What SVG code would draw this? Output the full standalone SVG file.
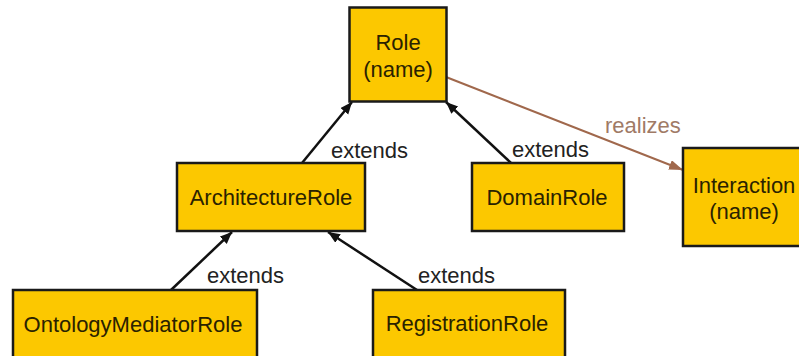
<svg xmlns="http://www.w3.org/2000/svg" width="799" height="356" viewBox="0 0 799 356">
<style>
.box{fill:#fcc800;stroke:#1a1a1a;stroke-width:2.5}
.t{font-family:"Liberation Sans",Arial,sans-serif;font-size:22px;fill:#2a2200;text-anchor:middle}
.lbl{font-family:"Liberation Sans",Arial,sans-serif;font-size:22px;fill:#222}
.ext{stroke:#111;stroke-width:2.5;fill:none}
.rea{stroke:#a0684c;stroke-width:2;fill:none}
</style>
<defs>
<marker id="ah" markerUnits="userSpaceOnUse" markerWidth="14" markerHeight="12" refX="12" refY="5" orient="auto">
<path d="M0,0 L12,5 L0,10 Z" fill="#111"/>
</marker>
<marker id="ahr" markerUnits="userSpaceOnUse" markerWidth="16" markerHeight="12" refX="14" refY="5" orient="auto">
<path d="M0,0 L14,5 L0,10 Z" fill="#a0684c"/>
</marker>
</defs>
<rect width="799" height="356" fill="#fff"/>
<g id="connectors">
<line class="ext" x1="302" y1="163" x2="352" y2="102" marker-end="url(#ah)"/>
<line class="ext" x1="511" y1="163" x2="446" y2="102" marker-end="url(#ah)"/>
<line class="ext" x1="171" y1="290" x2="232" y2="232" marker-end="url(#ah)"/>
<line class="ext" x1="417" y1="290" x2="328" y2="232" marker-end="url(#ah)"/>
<line class="rea" x1="446" y1="77" x2="683" y2="170" marker-end="url(#ahr)"/>
<text class="lbl" x="331" y="158">extends</text>
<text class="lbl" x="512" y="157">extends</text>
<text class="lbl" x="207" y="283">extends</text>
<text class="lbl" x="418" y="283">extends</text>
<text class="lbl" x="605" y="133" fill="#a07a66" style="fill:#a07a66">realizes</text>
</g>
<g id="role">
<rect class="box" x="349.5" y="7.5" width="97" height="94"/>
<text class="t" x="398" y="50">Role</text>
<text class="t" x="398" y="77">(name)</text>
</g>
<g id="architecture-role">
<rect class="box" x="177" y="163" width="188" height="68"/>
<text class="t" x="271" y="205">ArchitectureRole</text>
</g>
<g id="domain-role">
<rect class="box" x="472" y="163" width="152" height="68"/>
<text class="t" x="547" y="205">DomainRole</text>
</g>
<g id="interaction">
<rect class="box" x="683" y="148" width="125" height="98"/>
<text class="t" x="744" y="193">Interaction</text>
<text class="t" x="744" y="219">(name)</text>
</g>
<g id="ontology-mediator-role">
<rect class="box" x="13" y="290" width="244" height="75"/>
<text class="t" x="133" y="332">OntologyMediatorRole</text>
</g>
<g id="registration-role">
<rect class="box" x="373" y="290" width="192" height="75"/>
<text class="t" x="467" y="331">RegistrationRole</text>
</g>
</svg>
